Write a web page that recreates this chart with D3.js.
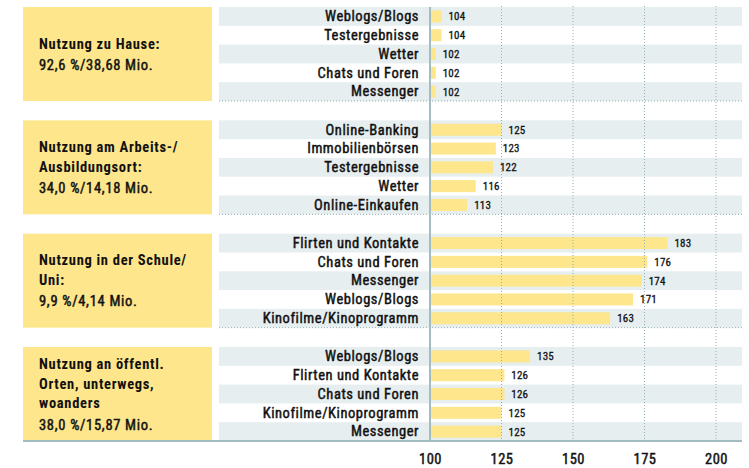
<!DOCTYPE html>
<html>
<head>
<meta charset="utf-8">
<script src="https://cdn.jsdelivr.net/npm/d3@7"></script>
<style>
  body { margin: 0; background: #fff; }
  text { font-family: "Liberation Sans Narrow", "Roboto Condensed", "DejaVu Sans Condensed", Roboto, sans-serif; fill: #111; }
  .medium { stroke: #111; stroke-width: 0.45px; }
</style>
</head>
<body>
<div id="chart"></div>
<script>
var width = 749;
var height = 468;

// group boxes (left, yellow)
const groupTitles = [
    ["Nutzung zu Hause:"],
    ["Nutzung am Arbeits-/", "Ausbildungsort:"],
    ["Nutzung in der Schule/", "Uni:"],
    ["Nutzung an öffentl.", "Orten, unterwegs,", "woanders"]
];
const groupStats = ["92,6 %/38,68 Mio.", "34,0 %/14,18 Mio.", "9,9 %/4,14 Mio.", "38,0 %/15,87 Mio."];

// categories and index values per group
const cats1 = ["Weblogs/Blogs", "Testergebnisse", "Wetter", "Chats und Foren", "Messenger"];
const vals1 = [104, 104, 102, 102, 102];
const cats2 = ["Online-Banking", "Immobilienbörsen", "Testergebnisse", "Wetter", "Online-Einkaufen"];
const vals2 = [125, 123, 122, 116, 113];
const cats3 = ["Flirten und Kontakte", "Chats und Foren", "Messenger", "Weblogs/Blogs", "Kinofilme/Kinoprogramm"];
const vals3 = [183, 176, 174, 171, 163];
const cats4 = ["Weblogs/Blogs", "Flirten und Kontakte", "Chats und Foren", "Kinofilme/Kinoprogramm", "Messenger"];
const vals4 = [135, 126, 126, 125, 125];

const ticks = [100, 125, 150, 175, 200];

const yellow = "#fde68b";
const stripe = "#e7eef0";
const axisCol = "#a3bcc0";
const dotCol = "#8fb0b2";

var groups = [cats1, cats2, cats3, cats4].map(function (c, i) {
    return { cats: c, vals: [vals1, vals2, vals3, vals4][i], title: groupTitles[i], stats: groupStats[i] };
});

var svg = d3.select("#chart").append("svg")
    .attr("width", width)
    .attr("height", height);

// scales
var x = d3.scaleLinear().domain([100, 200]).range([430, 716]);
var gy = d3.scaleBand().domain(d3.range(groups.length)).range([7, 441]).paddingInner(0.1706).paddingOuter(0);
var ry = d3.scaleBand().domain(d3.range(5)).range([0, gy.bandwidth()]);

var boxLeft = 23, boxRight = 212, rowLeft = 219, rowRight = 742;

var g = svg.selectAll(".group")
    .data(groups).enter()
    .append("g")
    .attr("class", "group")
    .attr("transform", function (d, i) { return "translate(0," + gy(i) + ")"; });

// yellow box
g.append("rect")
    .attr("x", boxLeft).attr("y", 0)
    .attr("width", boxRight - boxLeft)
    .attr("height", gy.bandwidth())
    .attr("fill", yellow);

// striped rows
g.selectAll(".stripe")
    .data(function (d) { return d.cats; }).enter()
    .append("rect")
    .attr("x", rowLeft)
    .attr("y", function (d, i) { return ry(i); })
    .attr("width", rowRight - rowLeft)
    .attr("height", ry.bandwidth())
    .attr("fill", function (d, i) { return i % 2 == 0 ? stripe : "none"; });

// vertical dotted gridlines
svg.selectAll(".grid")
    .data(ticks.slice(1)).enter()
    .append("line")
    .attr("x1", function (d) { return x(d); })
    .attr("x2", function (d) { return x(d); })
    .attr("y1", 6).attr("y2", 441)
    .attr("stroke", dotCol)
    .attr("stroke-width", 1)
    .attr("stroke-dasharray", "1,2");

// bars
g.selectAll(".bar")
    .data(function (d) { return d.vals; }).enter()
    .append("rect")
    .attr("x", x(100) + 1)
    .attr("y", function (d, i) { return ry(i) + (ry.bandwidth() - 12) / 2; })
    .attr("width", function (d) { return x(d) - x(100) - 1; })
    .attr("height", 12)
    .attr("fill", yellow);

// value labels
g.selectAll(".val")
    .data(function (d) { return d.vals; }).enter()
    .append("text")
    .attr("class", "medium")
    .attr("x", function (d) { return x(d) + 7; })
    .attr("y", function (d, i) { return ry(i) + ry.bandwidth() / 2 + 1; })
    .attr("dominant-baseline", "middle")
    .style("font-size", "11px")
    .style("stroke-width", "0.3px")
    .style("letter-spacing", "0.2px")
    .text(function (d) { return d; });

// category labels
g.selectAll(".cat")
    .data(function (d) { return d.cats; }).enter()
    .append("text")
    .attr("class", "medium")
    .attr("x", 419)
    .attr("y", function (d, i) { return ry(i) + ry.bandwidth() / 2 + 1; })
    .attr("text-anchor", "end")
    .attr("dominant-baseline", "middle")
    .style("font-size", "14.5px")
    .style("letter-spacing", "0.55px")
    .text(function (d) { return d; });

// dotted line under groups (last one gets a solid line)
g.filter(function (d, i) { return i < groups.length - 1; })
    .append("line")
    .attr("x1", rowLeft).attr("x2", rowRight)
    .attr("y1", gy.bandwidth()).attr("y2", gy.bandwidth())
    .attr("stroke", dotCol)
    .attr("stroke-dasharray", "1,2");

// box texts, centred vertically
g.each(function (d) {
    var lines = d.title.length;
    var total = (lines - 1) * 19.5 + 21.5;
    var start = gy.bandwidth() / 2 - total / 2 + 1.5;
    var sel = d3.select(this);
    d.title.forEach(function (t, j) {
        sel.append("text")
            .attr("x", 39)
            .attr("y", start + j * 19.5)
            .attr("dominant-baseline", "middle")
            .style("font-size", "14.5px")
            .style("font-weight", "bold")
            .style("letter-spacing", "0.7px")
            .text(t);
    });
    sel.append("text")
        .attr("class", "medium")
        .attr("x", 39)
        .attr("y", start + (lines - 1) * 19.5 + 21.5)
        .attr("dominant-baseline", "middle")
        .style("font-size", "14.5px")
        .style("letter-spacing", "0.7px")
        .text(d.stats);
});

// axis line
svg.append("line")
    .attr("x1", x(100)).attr("x2", x(100))
    .attr("y1", 7).attr("y2", 441)
    .attr("stroke", axisCol)
    .attr("stroke-width", 2);

// bottom solid line
svg.append("line")
    .attr("x1", boxLeft).attr("x2", rowRight)
    .attr("y1", 441).attr("y2", 441)
    .attr("stroke", axisCol)
    .attr("stroke-width", 2);

// x tick labels
var axis = d3.axisBottom(x).tickValues(ticks).tickSize(0).tickPadding(0);
svg.append("g")
    .attr("transform", "translate(0,454)")
    .call(axis)
    .call(function (a) { a.select(".domain").remove(); })
    .selectAll("text")
    .attr("class", "medium")
    .style("font-size", "14.5px")
    .style("letter-spacing", "0.5px")
    .style("font-family", "\"Liberation Sans Narrow\", \"Roboto Condensed\", \"DejaVu Sans Condensed\", Roboto, sans-serif")
    .attr("fill", "#111");
</script>
</body>
</html>
